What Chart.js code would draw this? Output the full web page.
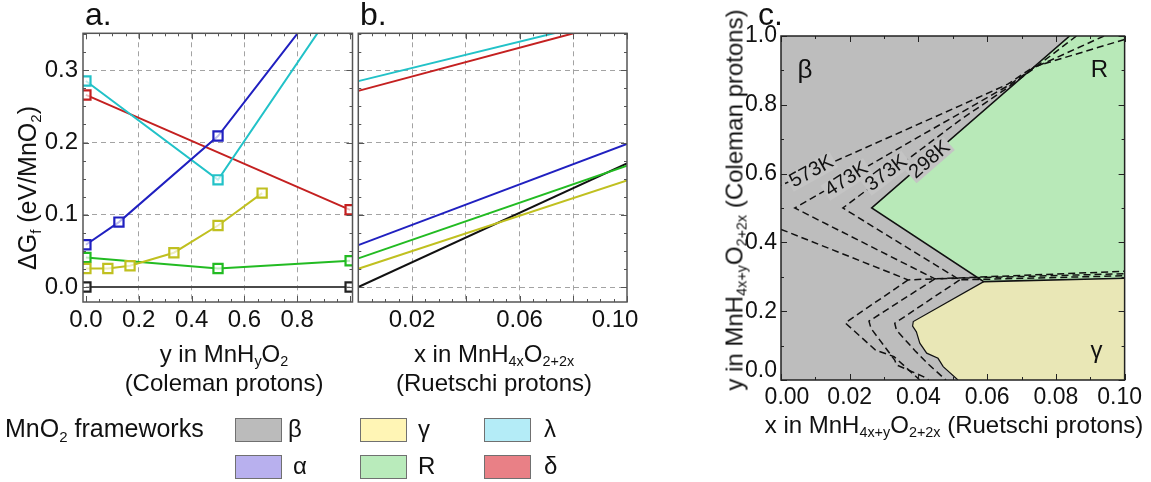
<!DOCTYPE html>
<html>
<head>
<meta charset="utf-8">
<script src="https://cdn.jsdelivr.net/npm/chart.js@4.4.0/dist/chart.umd.min.js"></script>
<style>
  body { margin: 0; background: #fff; width: 1151px; height: 482px; overflow: hidden; position: relative;
         font-family: "Liberation Sans", Arial, sans-serif; color: #111; }
  canvas { position: absolute; left: 0; top: 0; }
  .t { position: absolute; white-space: nowrap; font-size: 24px; line-height: 25px; }
  .t sub { font-size: 0.6em; vertical-align: baseline; position: relative; top: 0.3em; }
  .ctr { transform: translateX(-50%); text-align: center; }
  .rot { transform: translate(-50%, -50%) rotate(-90deg); }
  .pl { position: absolute; font-size: 32px; line-height: 32px; top: -2px; }
  .box { position: absolute; width: 47px; height: 24px; border: 1.5px solid #707070; box-sizing: border-box; }
</style>
</head>
<body>
<canvas id="ca" width="1151" height="482"></canvas>
<canvas id="cb" width="1151" height="482"></canvas>
<canvas id="cc" width="1151" height="482"></canvas>

<div class="pl" style="left:85px">a.</div>
<div class="pl" style="left:360px">b.</div>
<div class="pl" style="left:758px">c.</div>

<div class="t rot" style="left:29px; top:188px; font-size:25px; line-height:26px">ΔG<sub>f</sub> (eV/MnO<sub>2</sub>)</div>
<div class="t ctr" style="left:224px; top:341px">y in MnH<sub>y</sub>O<sub>2</sub><br>(Coleman protons)</div>
<div class="t ctr" style="left:494px; top:341px">x in MnH<sub>4x</sub>O<sub>2+2x</sub><br>(Ruetschi protons)</div>
<div class="t ctr" style="left:954px; top:412px">x in MnH<sub>4x+y</sub>O<sub>2+2x</sub> (Ruetschi protons)</div>
<div class="t rot" style="left:736px; top:200px">y in MnH<sub>4x+y</sub>O<sub>2+2x</sub> (Coleman protons)</div>

<div class="t" style="left:5px; top:416px; font-size:25px">MnO<sub>2</sub> frameworks</div>
<div class="box" style="left:235px; top:418px; background:#bbbbbb"></div>
<div class="t" style="left:288px; top:416px">β</div>
<div class="box" style="left:235px; top:455px; background:#b8b0ee"></div>
<div class="t" style="left:293px; top:453px">α</div>
<div class="box" style="left:360px; top:418px; background:#fff5b5"></div>
<div class="t" style="left:418px; top:416px">γ</div>
<div class="box" style="left:360px; top:455px; background:#b9ebbb"></div>
<div class="t" style="left:418px; top:453px">R</div>
<div class="box" style="left:484px; top:418px; background:#b4ecf7"></div>
<div class="t" style="left:544px; top:416px">λ</div>
<div class="box" style="left:484px; top:455px; background:#e98086"></div>
<div class="t" style="left:544px; top:453px">δ</div>

<script>
// ---- panel a: dGf vs y in MnHyO2 (Coleman protons)
const colemanBeta = [0, 1];
const dGBeta = [0, 0];
const colemanAlpha = [0, 0.125, 0.5, 1];
const dGAlpha = [0.0585, 0.0899, 0.209, 0.445];
const colemanLambda = [0, 0.5, 1];
const dGLambda = [0.2852, 0.1484, 0.418];
const colemanDelta = [0, 1];
const dGDelta = [0.2659, 0.1069];
const colemanGamma = [0, 0.083, 0.167, 0.333, 0.5, 0.667];
const dGGamma = [0.0257, 0.0257, 0.0295, 0.0475, 0.0852, 0.130];
const colemanR = [0, 0.5, 1];
const dGR = [0.041, 0.0257, 0.0364];

// ---- panel b: dGf vs x in MnH4xO2+2x (Ruetschi protons)
const ruetschiX = [0, 0.1];
const dGRuBeta = [0, 0.171];
const dGRuAlpha = [0.058, 0.198];
const dGRuR = [0.0397, 0.168];
const dGRuGamma = [0.0253, 0.1476];
const dGRuLambda = [0.285, 0.376];
const dGRuDelta = [0.2715, 0.371];

// ---- panel c: stable framework map (298 K solid, higher T dashed)
const betaFieldX = [0, 0.1, 0.1, 0, 0];
const betaFieldY = [0, 0, 1, 1, 0];
const rFieldX = [0.0264, 0.084, 0.1, 0.1, 0.059, 0.0264];
const rFieldY = [0.5, 1, 1, 0.296, 0.286, 0.5];
const gammaFieldX = [0.059, 0.1, 0.1, 0.0515, 0.0472, 0.0457, 0.0424, 0.0404, 0.0394, 0.0383, 0.0385, 0.059];
const gammaFieldY = [0.286, 0.296, 0, 0, 0.039, 0.063, 0.078, 0.107, 0.140, 0.157, 0.170, 0.286];
const b298X = [0.084, 0.0264, 0.059, 0.1];
const b298Y = [1, 0.5, 0.286, 0.296];
const g298X = [0.059, 0.0385, 0.0383, 0.0394, 0.0404, 0.0424, 0.0457, 0.0472, 0.0515];
const g298Y = [0.286, 0.170, 0.157, 0.140, 0.107, 0.078, 0.063, 0.039, 0];
const b373X = [0.086, 0.0735, 0.066, 0.052, 0.018, 0.052, 0.1];
const b373Y = [1, 0.905, 0.85, 0.755, 0.5, 0.291, 0.303];
const g373X = [0.052, 0.0331, 0.0336, 0.039, 0.043, 0.048];
const g373Y = [0.291, 0.165, 0.145, 0.085, 0.045, 0];
const b473X = [0.094, 0.0735, 0.066, 0.052, 0.004, 0.0448, 0.1];
const b473Y = [1, 0.907, 0.855, 0.775, 0.5, 0.294, 0.309];
const g473X = [0.0448, 0.0256, 0.0262, 0.0331, 0.0336, 0.0414, 0.043];
const g473Y = [0.294, 0.171, 0.150, 0.058, 0.044, 0.010, 0];
const u573X = [0.1, 0.0735, 0.066, 0.052, 0];
const u573Y = [0.99, 0.91, 0.86, 0.797, 0.566];
const b573X = [0, 0.037, 0.1];
const b573Y = [0.438, 0.291, 0.316];
const g573X = [0.037, 0.0187, 0.0275, 0.0329, 0.0404];
const g573Y = [0.291, 0.166, 0.087, 0.068, 0];

// tick labels
const aXTicks = [0, 0.2, 0.4, 0.6, 0.8];
const aYTicks = [0, 0.1, 0.2, 0.3];
const bXTicks = [0.02, 0.04, 0.06, 0.08, 0.1];
const bXLabels = [0.02, 0.06, 0.1];
const cXTicks = [0, 0.02, 0.04, 0.06, 0.08, 0.1];
const cYTicks = [0, 0.2, 0.4, 0.6, 0.8, 1];

const cLabels = [
  { text: 'β', x: 0.007, y: 0.90, size: 26 },
  { text: 'R', x: 0.0927, y: 0.901, size: 24 },
  { text: 'γ', x: 0.0918, y: 0.084, size: 24 },
  { text: '573K', x: 0.0089, y: 0.6055, size: 20, rot: -29, bg: true },
  { text: '473K', x: 0.0191, y: 0.583, size: 20, rot: -33, bg: true },
  { text: '373K', x: 0.0307, y: 0.601, size: 20, rot: -37, bg: true },
  { text: '298K', x: 0.0433, y: 0.640, size: 20, rot: -41, bg: true }
];

const colors = { alpha: '#2020c0', lambda: '#22c2c8', delta: '#c42020', gamma: '#c0c020', R: '#22bb22', beta: '#4a4a4a' };

Chart.defaults.font.family = "'Liberation Sans', Arial, sans-serif";
Chart.defaults.color = '#111';

const pts = (xs, ys) => xs.map((x, i) => ({ x: x, y: ys[i] }));

function ln(xs, ys, color, extra) {
  return Object.assign({ data: pts(xs, ys), showLine: true, borderColor: color, borderWidth: 2,
    pointRadius: 0, fill: false, tension: 0 }, extra || {});
}
function marked(xs, ys, color, pointColor) {
  return ln(xs, ys, color, { pointStyle: 'rect', pointRadius: 6.5, pointBorderWidth: 2.2,
    pointBorderColor: pointColor || color, pointBackgroundColor: 'rgba(255,255,255,0.7)' });
}

function axis(o) {
  return {
    type: 'linear', min: o.min, max: o.max,
    afterFit: s => { if (s.isHorizontal()) s.height = o.size; else s.width = o.size; },
    afterBuildTicks: s => { s.ticks = o.ticks.map(v => ({ value: v })); },
    ticks: { display: o.fmt !== undefined, callback: o.fmt, padding: o.pad || 4, font: { size: o.font || 24 },
      color: '#111', autoSkip: false, maxRotation: 0, minRotation: 0 },
    grid: { display: !!o.grid, drawTicks: false, lineWidth: 1,
      color: c => (o.grid && c.tick && o.grid.includes(c.tick.value)) ? '#a3a3a3' : 'rgba(0,0,0,0)' },
    border: { display: false, dash: [5, 4] }
  };
}

// inward frame ticks and frame box
const frames = {
  ca: { xMajor: 0.2, xMinor: 0.05, yMajor: 0.1, yMinor: 0.025, color: '#555' },
  cb: { xMajor: 0.02, xMinor: 0.005, yMajor: 0.1, yMinor: 0.025, color: '#555' },
  cc: { xMajor: 0.02, xMinor: 0.01, yMajor: 0.2, yMinor: 0.1, color: '#222' }
};
const frame = {
  id: 'frame',
  afterDraw(chart) {
    const f = frames[chart.canvas.id];
    const { ctx, chartArea: a, scales: { x, y } } = chart;
    ctx.save();
    ctx.strokeStyle = f.color;
    ctx.lineWidth = 1;
    const marks = (sc, step, len, horiz) => {
      for (let v = Math.ceil(sc.min / step - 1e-6) * step; v <= sc.max + 1e-9; v += step) {
        const p = Math.round(sc.getPixelForValue(v)) + 0.5;
        ctx.beginPath();
        if (horiz) {
          ctx.moveTo(p, a.bottom); ctx.lineTo(p, a.bottom - len);
          ctx.moveTo(p, a.top); ctx.lineTo(p, a.top + len);
        } else {
          ctx.moveTo(a.left, p); ctx.lineTo(a.left + len, p);
          ctx.moveTo(a.right, p); ctx.lineTo(a.right - len, p);
        }
        ctx.stroke();
      }
    };
    marks(x, f.xMinor, 3, true);
    marks(x, f.xMajor, 6, true);
    marks(y, f.yMinor, 3, false);
    marks(y, f.yMajor, 6, false);
    ctx.lineWidth = 1.5;
    ctx.strokeRect(a.left, a.top, a.right - a.left, a.bottom - a.top);
    ctx.restore();
  }
};

// shift edge tick labels inward, as in the reference
const nudges = {
  cb: { x: { '0.10': [-12, 0] } },
  cc: { x: { '0.00': [6, 0], '0.10': [-5, 0] }, y: { '0.0': [0, -9] } }
};
const nudge = {
  id: 'nudge',
  beforeDraw(chart) {
    const n = nudges[chart.canvas.id];
    if (!n) return;
    for (const ax in n) {
      chart.scales[ax].getLabelItems().forEach(it => {
        const d = n[ax][it.label];
        if (d) { it.options.translation[0] += d[0]; it.options.translation[1] += d[1]; }
      });
    }
  }
};

const regionText = {
  id: 'regionText',
  afterDatasetsDraw(chart) {
    if (chart.canvas.id !== 'cc') return;
    const { ctx, scales: { x, y } } = chart;
    cLabels.forEach(l => {
      ctx.save();
      ctx.translate(x.getPixelForValue(l.x), y.getPixelForValue(l.y));
      ctx.rotate((l.rot || 0) * Math.PI / 180);
      ctx.font = l.size + "px 'Liberation Sans', Arial, sans-serif";
      ctx.textAlign = 'center';
      ctx.textBaseline = 'middle';
      if (l.bg) {
        const w = ctx.measureText(l.text).width;
        ctx.fillStyle = '#c4c4c4';
        ctx.fillRect(-w / 2 - 2, -l.size * 0.45, w + 4, l.size * 0.9);
      }
      ctx.fillStyle = '#111';
      ctx.fillText(l.text, 0, 0);
      ctx.restore();
    });
  }
};

const base = (pad) => ({
  responsive: false, animation: false, devicePixelRatio: 1,
  layout: { autoPadding: false, padding: pad },
  plugins: { legend: { display: false }, tooltip: { enabled: false } }
});

// panel a
new Chart(document.getElementById('ca'), {
  type: 'scatter',
  data: { datasets: [
    marked(colemanAlpha, dGAlpha, colors.alpha),
    marked(colemanLambda, dGLambda, colors.lambda),
    marked(colemanDelta, dGDelta, colors.delta),
    marked(colemanGamma, dGGamma, colors.gamma),
    marked(colemanR, dGR, colors.R),
    marked(colemanBeta, dGBeta, colors.beta, '#222')
  ] },
  options: Object.assign(base({ left: 0, right: 798.5, top: 33.3, bottom: 140 }), {
    scales: {
      x: axis({ min: -0.011, max: 1.009, size: 40, ticks: aXTicks, grid: [0.2, 0.4, 0.6, 0.8], fmt: v => v.toFixed(1), pad: 4 }),
      y: axis({ min: -0.0207, max: 0.3512, size: 83, ticks: aYTicks, grid: aYTicks, fmt: v => v.toFixed(1), pad: 5 })
    }
  }),
  plugins: [frame, nudge]
});

// panel b
new Chart(document.getElementById('cb'), {
  type: 'scatter',
  data: { datasets: [
    ln(ruetschiX, dGRuLambda, colors.lambda),
    ln(ruetschiX, dGRuDelta, colors.delta),
    ln(ruetschiX, dGRuAlpha, colors.alpha),
    ln(ruetschiX, dGRuR, colors.R),
    ln(ruetschiX, dGRuGamma, colors.gamma),
    ln(ruetschiX, dGRuBeta, '#111')
  ] },
  options: Object.assign(base({ left: 358.3, right: 524, top: 33.3, bottom: 140 }), {
    scales: {
      x: axis({ min: 0, max: 0.1, size: 40, ticks: bXTicks, grid: [0.02, 0.04, 0.06, 0.08],
        fmt: v => bXLabels.includes(v) ? v.toFixed(2) : '', pad: 4 }),
      y: axis({ min: -0.0207, max: 0.3512, size: 0, ticks: aYTicks, grid: aYTicks })
    }
  }),
  plugins: [frame, nudge]
});

// panel c
const dash = { borderColor: '#111', borderWidth: 1.5, borderDash: [7, 4], order: 5 };
const solid = { borderColor: '#111', borderWidth: 1.6, order: 4 };
new Chart(document.getElementById('cc'), {
  type: 'scatter',
  data: { datasets: [
    ln(betaFieldX, betaFieldY, 'rgba(0,0,0,0)', { fill: 'shape', backgroundColor: '#bdbdbd', borderWidth: 0, order: 10 }),
    ln(rFieldX, rFieldY, 'rgba(0,0,0,0)', { fill: 'shape', backgroundColor: '#b8e9b8', borderWidth: 0, order: 9 }),
    ln(gammaFieldX, gammaFieldY, 'rgba(0,0,0,0)', { fill: 'shape', backgroundColor: '#e9e7b6', borderWidth: 0, order: 8 }),
    ln(b373X, b373Y, '#111', dash),
    ln(g373X, g373Y, '#111', dash),
    ln(b473X, b473Y, '#111', dash),
    ln(g473X, g473Y, '#111', dash),
    ln(u573X, u573Y, '#111', dash),
    ln(b573X, b573Y, '#111', dash),
    ln(g573X, g573Y, '#111', dash),
    ln(b298X, b298Y, '#111', solid),
    ln(g298X, g298Y, '#111', Object.assign({}, solid, { borderWidth: 1.2 }))
  ] },
  options: Object.assign(base({ left: 721, right: 25.5, top: 36, bottom: 62 }), {
    scales: {
      x: axis({ min: 0, max: 0.1, size: 40, ticks: cXTicks, fmt: v => v.toFixed(2), pad: 4, font: 23 }),
      y: axis({ min: 0, max: 1, size: 60, ticks: cYTicks, fmt: v => v.toFixed(1), pad: 4, font: 23 })
    }
  }),
  plugins: [regionText, frame, nudge]
});
</script>
</body>
</html>
